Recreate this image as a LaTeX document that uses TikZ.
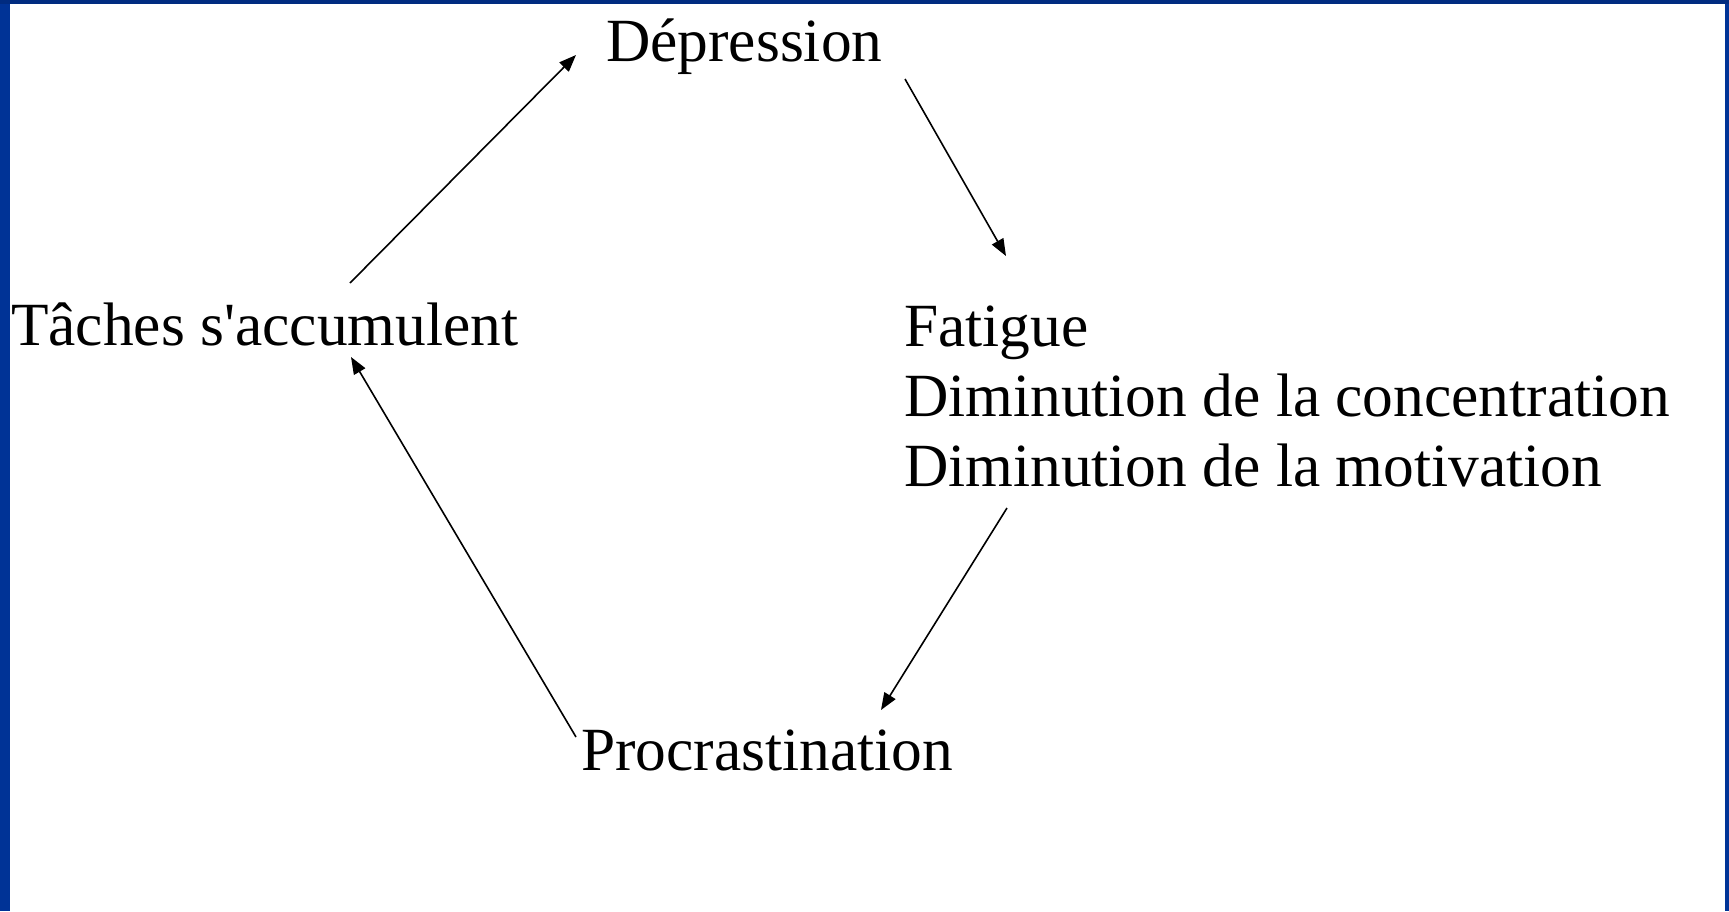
\documentclass[tikz,border=0pt]{standalone}
\usepackage{fontspec}
\setmainfont{Liberation Serif}
\usetikzlibrary{arrows.meta}
\definecolor{frameblue}{RGB}{0,51,150}
\definecolor{frametop}{RGB}{0,43,128}
\tikzset{
  lbl/.style={anchor=base west, inner sep=0pt, font=\fontsize{61.4}{70}\selectfont},
  conn/.style={line width=1.6pt, -{Triangle[length=17pt,width=13pt]}}
}
\begin{document}
\begin{tikzpicture}[x=1pt,y=-1pt]
\useasboundingbox (0,0) rectangle (1729,911);
\fill[white] (0,0) rectangle (1729,911);
\fill[frameblue] (0,0) rectangle (10,911);
\fill[frameblue] (1725,0) rectangle (1729,911);
\fill[frametop] (0,0) rectangle (1729,4);

\node[lbl] (dep) at (606,61) {Dépression};
\node[lbl] (tac) at (11,345) {Tâches s\textquotesingle accumulent};
\node[lbl, align=left] (fat) at (904,486) {Fatigue\\Diminution de la concentration\\Diminution de la motivation};
\node[lbl] (pro) at (581,770) {Procrastination};

\coordinate (tacA) at (350,283);
\coordinate (depA) at (576,55);
\coordinate (depB) at (905,79);
\coordinate (fatA) at (1006,256);
\coordinate (fatB) at (1007,508);
\coordinate (proA) at (881,710);
\coordinate (proB) at (576,737);
\coordinate (tacB) at (351,357);

\draw[conn] (tacA) -- (depA);
\draw[conn] (depB) -- (fatA);
\draw[conn] (fatB) -- (proA);
\draw[conn] (proB) -- (tacB);
\end{tikzpicture}
\end{document}
